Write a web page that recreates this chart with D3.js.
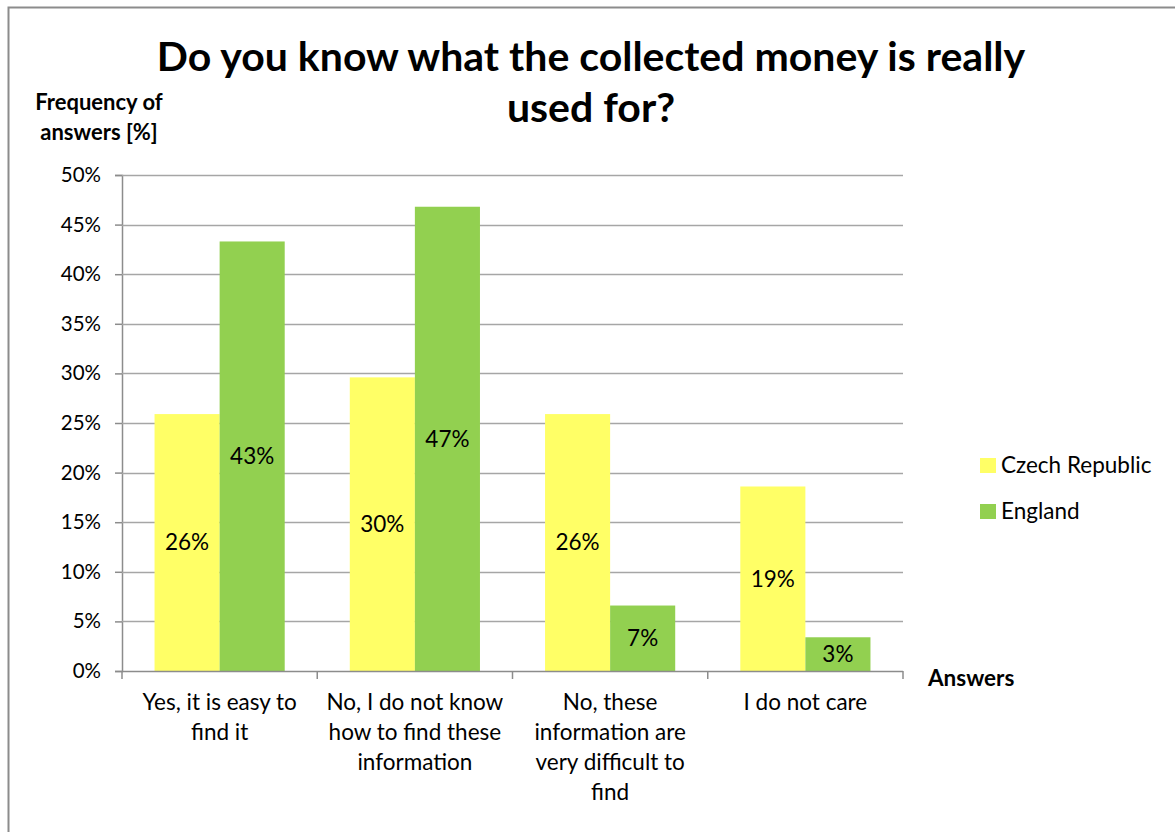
<!DOCTYPE html>
<html>
<head>
<meta charset="utf-8">
<script src="https://cdn.jsdelivr.net/npm/d3@7"></script>
<style>
  html, body { margin: 0; padding: 0; background: #fff; }
  svg text { font-family: Lato, "Open Sans", sans-serif; fill: #000; }
</style>
</head>
<body>
<svg id="chart" width="1175" height="832"></svg>
<script>
// Survey answers and the share of respondents per country
const categories = [
  ["Yes, it is easy to", "find it"],
  ["No, I do not know", "how to find these", "information"],
  ["No, these", "information are", "very difficult to", "find"],
  ["I do not care"]
];
const seriesNames = ["Czech Republic", "England"];
const czechValues = [0.259, 0.296, 0.259, 0.186];
const englandValues = [0.433, 0.468, 0.066, 0.034];
const yTicks = [0, 0.05, 0.10, 0.15, 0.20, 0.25, 0.30, 0.35, 0.40, 0.45, 0.50];
const seriesColors = ["#FFFF66", "#92D050"];

const svg = d3.select("#chart");

// chart frame
svg.append("rect")
  .attr("x", 8.5).attr("y", 7.5)
  .attr("width", 1190).attr("height", 840)
  .attr("fill", "#fff").attr("stroke", "#8c8c8c").attr("stroke-width", 2);

const plot = { left: 122, right: 903, top: 175, bottom: 671 };

const x = d3.scaleBand()
  .domain(d3.range(categories.length))
  .range([plot.left, plot.right])
  .paddingInner(1 / 3)
  .paddingOuter(1 / 6);

const xSeries = d3.scaleBand()
  .domain(d3.range(seriesNames.length))
  .range([0, x.bandwidth()]);

const y = d3.scaleLinear().domain([0, 0.5]).range([plot.bottom, plot.top]);

// horizontal gridlines + y axis
const yAxis = d3.axisLeft(y)
  .tickValues(yTicks)
  .tickFormat(d3.format(".0%"))
  .tickSize(7)
  .tickPadding(14);

const gy = svg.append("g")
  .attr("transform", `translate(${plot.left},0)`)
  .call(yAxis);
gy.select(".domain").attr("stroke", "#8c8c8c").attr("stroke-width", 1.5);
gy.selectAll(".tick line").attr("stroke", "#8c8c8c").attr("stroke-width", 1.5);
gy.selectAll(".tick text")
  .style("font-size", "20.5px")
  .attr("fill", "#000");

svg.append("g")
  .selectAll("line")
  .data(yTicks.filter(d => d > 0))
  .join("line")
  .attr("x1", plot.left).attr("x2", plot.right)
  .attr("y1", d => Math.round(y(d)) + 0.5).attr("y2", d => Math.round(y(d)) + 0.5)
  .attr("stroke", "#a6a6a6").attr("stroke-width", 1.5);

// bars
const rows = categories.map((c, i) => [czechValues[i], englandValues[i]]);

const groups = svg.append("g")
  .selectAll("g")
  .data(rows)
  .join("g")
  .attr("transform", (d, i) => `translate(${x(i)},0)`);

groups.selectAll("rect")
  .data(d => d)
  .join("rect")
  .attr("x", (d, j) => xSeries(j))
  .attr("y", d => y(d))
  .attr("width", xSeries.bandwidth())
  .attr("height", d => y(0) - y(d))
  .attr("fill", (d, j) => seriesColors[j]);

// value labels in the middle of each bar
groups.selectAll("text.value")
  .data(d => d)
  .join("text")
  .attr("class", "value")
  .attr("x", (d, j) => xSeries(j) + xSeries.bandwidth() / 2)
  .attr("y", d => (y(d) + y(0)) / 2)
  .attr("dy", "0.35em")
  .attr("text-anchor", "middle")
  .style("font-size", "22.5px")
  .text(d => d3.format(".0%")(d));

// x axis baseline and category tick marks
svg.append("line")
  .attr("x1", plot.left).attr("x2", plot.right)
  .attr("y1", plot.bottom + 0.5).attr("y2", plot.bottom + 0.5)
  .attr("stroke", "#8c8c8c").attr("stroke-width", 1.5);

const step = x.step();
svg.append("g")
  .selectAll("line")
  .data(d3.range(categories.length + 1))
  .join("line")
  .attr("x1", i => plot.left + i * step).attr("x2", i => plot.left + i * step)
  .attr("y1", plot.bottom).attr("y2", plot.bottom + 8)
  .attr("stroke", "#8c8c8c").attr("stroke-width", 1.5);

// category labels
svg.append("g")
  .selectAll("text")
  .data(categories)
  .join("text")
  .attr("text-anchor", "middle")
  .attr("transform", (d, i) => `translate(${x(i) + x.bandwidth() / 2},${plot.bottom + 39})`)
  .style("font-size", "22.5px")
  .selectAll("tspan")
  .data(d => d)
  .join("tspan")
  .attr("x", 0)
  .attr("y", (d, k) => k * 30)
  .text(d => d);

// title
svg.append("text")
  .attr("text-anchor", "middle")
  .style("font-size", "41px").style("font-weight", "bold")
  .selectAll("tspan")
  .data(["Do you know what the collected money is really", "used for?"])
  .join("tspan")
  .attr("x", 591)
  .attr("y", (d, k) => 71 + k * 51)
  .text(d => d);

// axis titles
svg.append("text")
  .attr("text-anchor", "middle")
  .style("font-size", "22px").style("font-weight", "bold")
  .selectAll("tspan")
  .data(["Frequency of", "answers [%]"])
  .join("tspan")
  .attr("x", 99)
  .attr("y", (d, k) => 110 + k * 30)
  .text(d => d);

svg.append("text")
  .attr("x", 928).attr("y", 686)
  .style("font-size", "22.5px").style("font-weight", "bold")
  .text("Answers");

// legend
const legend = svg.append("g")
  .selectAll("g")
  .data(seriesNames)
  .join("g")
  .attr("transform", (d, i) => `translate(980,${465 + i * 46})`);

legend.append("rect")
  .attr("x", 0).attr("y", -7)
  .attr("width", 16).attr("height", 15)
  .attr("fill", (d, i) => seriesColors[i]);

legend.append("text")
  .attr("x", 21).attr("y", 0)
  .attr("dy", "0.35em")
  .style("font-size", "22.5px")
  .text(d => d);
</script>
</body>
</html>
